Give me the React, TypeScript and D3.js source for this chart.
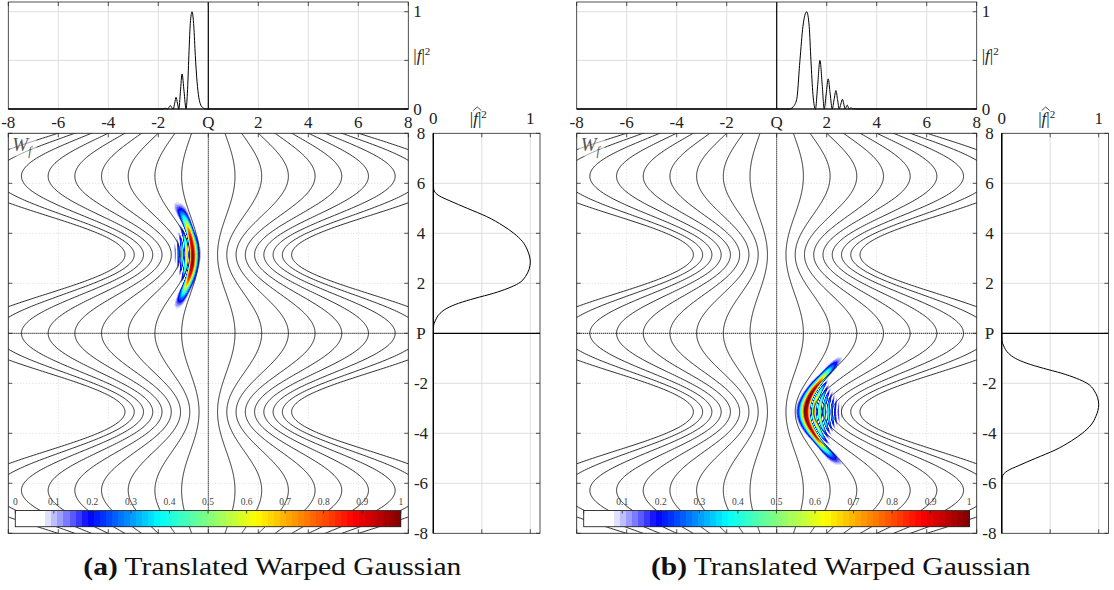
import React, { useMemo } from 'react';
import * as d3 from 'd3';

// ---------- axis ticks ----------
const xTickValues = [-8, -6, -4, -2, 0, 2, 4, 6, 8];
const xTickLabels = ['-8', '-6', '-4', '-2', 'Q', '2', '4', '6', '8'];
const wTickValues = [8, 6, 4, 2, 0, -2, -4, -6, -8];
const wTickLabels = ['8', '6', '4', '2', 'P', '-2', '-4', '-6', '-8'];
const unitTickValues = [0, 0.5, 1];
const colorbarTickValues = [0, 0.1, 0.2, 0.3, 0.4, 0.5, 0.6, 0.7, 0.8, 0.9, 1];
const colorbarLabelsA = ['0', '0.1', '0.2', '0.3', '0.4', '0.5', '0.6', '0.7', '0.8', '0.9', '1'];
const colorbarLabelsB = ['', '0.1', '0.2', '0.3', '0.4', '0.5', '0.6', '0.7', '0.8', '0.9', '1'];

// ---------- warping model (w'(ω) = 1 + β cos ω) ----------
const warpBeta = [0.485];
const contourSpacing = [0.719];
const contourIndex = [-9, -8, -7, -6, -5, -4, -3, -2, -1, 1, 2, 3, 4, 5, 6, 7, 8, 9];
const translations = [-1.0, 2.0];

// ---------- top marginal |f|^2 ----------
const topAx = [-8, -2.5, -1.82, -1.77, -1.72, -1.67, -1.63, -1.575, -1.52, -1.465, -1.4, -1.345, -1.29, -1.235, -1.18, -1.115, -1.05, -0.97, -0.89, -0.83, -0.77, -0.72, -0.65, -0.58, -0.52, -0.45, -0.38, -0.3, -0.2, -0.1, 8];
const topAy = [0, 0, 0, 0.004, 0.008, 0.004, 0, 0.017, 0.035, 0.017, 0, 0.06, 0.12, 0.06, 0, 0.18, 0.36, 0.18, 0, 0.2, 0.6, 0.88, 1.0, 0.85, 0.55, 0.28, 0.12, 0.04, 0.01, 0, 0];
const topBx = [-8, 0.5, 0.65, 0.8, 0.93, 1.05, 1.2, 1.3, 1.37, 1.45, 1.55, 1.64, 1.73, 1.82, 1.9, 1.98, 2.06, 2.14, 2.22, 2.295, 2.37, 2.435, 2.5, 2.565, 2.63, 2.685, 2.74, 2.78, 2.82, 2.86, 2.9, 2.935, 2.97, 3.005, 3.04, 3.07, 3.1, 3.13, 3.16, 8];
const topBy = [0, 0, 0.02, 0.1, 0.5, 0.85, 1.0, 0.85, 0.5, 0.15, 0, 0.25, 0.5, 0.25, 0, 0.155, 0.31, 0.155, 0, 0.095, 0.19, 0.095, 0, 0.05, 0.1, 0.05, 0, 0.02, 0.04, 0.02, 0, 0.0075, 0.015, 0.0075, 0, 0.003, 0.005, 0.002, 0, 0];

// ---------- right marginal |f^|^2 ----------
const margAw = [-8, 0, 0.3, 0.5, 0.8, 1.0, 1.2, 1.4, 1.6, 1.8, 2.0, 2.27, 2.85, 3.33, 3.67, 4.0, 4.3, 4.67, 5.0, 5.3, 5.5, 5.75, 6, 8];
const margAv = [0, 0, 0.003, 0.02, 0.07, 0.14, 0.26, 0.43, 0.62, 0.77, 0.88, 0.95, 1.0, 0.97, 0.92, 0.83, 0.72, 0.55, 0.35, 0.17, 0.06, 0.005, 0, 0];
const margBw = [-8, -6, -5.75, -5.5, -5.3, -5.0, -4.67, -4.3, -4.0, -3.67, -3.33, -2.85, -2.27, -2.0, -1.8, -1.6, -1.4, -1.2, -1.0, -0.8, -0.5, -0.3, 0, 8];
const margBv = [0, 0, 0.005, 0.06, 0.17, 0.35, 0.55, 0.72, 0.83, 0.92, 0.97, 1.0, 0.95, 0.88, 0.77, 0.62, 0.43, 0.26, 0.14, 0.07, 0.02, 0.003, 0, 0];

// heatmap regions [xMin, xMax, wMin, wMax]
const heatRegionA = [-2.2, 0.2, -0.2, 6.4];
const heatRegionB = [0.0, 3.8, -6.4, 0.2];

// ---------- colour map ----------
const colormapStops = [0, 0.077, 0.085, 0.19, 0.375, 0.625, 0.875, 1];
const colormapColors = ['#ffffff', '#ffffff', '#e2e2ff', '#0000ff', '#00ffff', '#ffff00', '#ff0000', '#800000'];
const colorLevels = 64;

const FONT = "'Liberation Serif', 'Times New Roman', serif";
const AXIS = '#262626';
const TWO_PI = 2 * Math.PI;

const cmap = d3.scaleLinear<string>().domain(colormapStops).range(colormapColors).interpolate(d3.interpolateRgb);
const levelColor = (l: number) => cmap((l + 0.5) / colorLevels);

type Run = { x0: number; x1: number; w0: number; w1: number; color: string };

function computeWigner(
  margW: number[], margV: number[], b: number, region: number[],
  xs: d3.ScaleLinear<number, number>, ws: d3.ScaleLinear<number, number>
): Run[] {
  const beta = warpBeta[0];
  const h = 0.01;
  const N = Math.round(16 / h) + 1;
  const amp = d3.scaleLinear().domain(margW).range(margV).clamp(true);
  const A = new Float64Array(N);
  const WV = new Float64Array(N);
  for (let j = 0; j < N; j++) {
    const om = -8 + j * h;
    A[j] = Math.sqrt(Math.max(0, amp(om)));
    WV[j] = om + beta * Math.sin(om);
  }
  const pxL = Math.floor(xs(region[0]));
  const pxR = Math.ceil(xs(region[1]));
  const pyT = Math.floor(ws(region[3]));
  const pyB = Math.ceil(ws(region[2]));
  const nx = pxR - pxL;
  const ny = pyB - pyT;
  const vals = new Float64Array(nx * ny);
  const xsVals = new Float64Array(nx);
  for (let c = 0; c < nx; c++) xsVals[c] = xs.invert(pxL + c + 0.5);
  let vmax = 0;
  for (let r = 0; r < ny; r++) {
    const om = ws.invert(pyT + r + 0.5);
    const i = Math.round((om + 8) / h);
    const kmax = Math.min(i, N - 1 - i);
    const P: number[] = [];
    const Phi: number[] = [];
    const Kk: number[] = [];
    for (let k = 1; k <= kmax; k++) {
      const p = A[i + k] * A[i - k];
      if (p > 1e-7) {
        P.push(p);
        Phi.push(TWO_PI * b * (WV[i + k] - WV[i - k]));
        Kk.push(TWO_PI * 2 * k * h);
      }
    }
    const a0 = A[i] * A[i];
    for (let c = 0; c < nx; c++) {
      const x = xsVals[c];
      let s = a0;
      for (let q = 0; q < P.length; q++) s += 2 * P[q] * Math.cos(Kk[q] * x - Phi[q]);
      s = Math.abs(s);
      vals[r * nx + c] = s;
      if (s > vmax) vmax = s;
    }
  }
  const runs: Run[] = [];
  const lev = (v: number) => Math.max(0, Math.min(colorLevels - 1, Math.floor(v * colorLevels)));
  for (let r = 0; r < ny; r++) {
    let c = 0;
    while (c < nx) {
      const v = vals[r * nx + c] / vmax;
      const lvl = lev(v);
      let e = c + 1;
      while (e < nx && lev(vals[r * nx + e] / vmax) === lvl) e++;
      if (v >= 0.077) {
        runs.push({
          x0: xs.invert(pxL + c), x1: xs.invert(pxL + e),
          w0: ws.invert(pyT + r), w1: ws.invert(pyT + r + 1),
          color: levelColor(lvl),
        });
      }
      c = e;
    }
  }
  return runs;
}

type PanelProps = {
  id: string; X0: number; topX: number[]; topY: number[]; margW: number[]; margV: number[];
  b: number; region: number[]; cbLabels: string[]; tag: string;
};

function Panel({ id, X0, topX, topY, margW, margV, b, region, cbLabels, tag }: PanelProps) {
  const xs = d3.scaleLinear().domain([-8, 8]).range([X0, X0 + 400]);
  const ys = d3.scaleLinear().domain([0, 1.1]).range([109, 2]);
  const ws = d3.scaleLinear().domain([-8, 8]).range([533.3, 133.3]);
  const ms = d3.scaleLinear().domain([0, 1.1]).range([X0 + 425, X0 + 531.7]);
  const cb = d3.scaleLinear().domain([0, 1]).range([X0 + 7, X0 + 392.5]);

  const runs = useMemo(() => computeWigner(margW, margV, b, region, xs, ws), [X0]);

  const beta = warpBeta[0];
  const omegas = d3.range(-8.2, 8.21, 0.04);
  const contours = contourIndex.map((k) => {
    const pts = omegas.map((om) => [k * contourSpacing[0] * (1 + beta * Math.cos(om)), om] as [number, number]);
    return d3.line<[number, number]>().x((d) => xs(d[0])).y((d) => ws(d[1]))(pts) || '';
  });

  const topPts = topX.map((x, i) => [x, topY[i]] as [number, number]);
  const topPath = d3.line<[number, number]>().x((d) => xs(d[0])).y((d) => ys(d[1])).curve(d3.curveMonotoneX)(topPts) || '';
  const margPts = margW.map((w, i) => [w, margV[i]] as [number, number]);
  const margPath = d3.line<[number, number]>().x((d) => ms(d[1])).y((d) => ws(d[0])).curve(d3.curveMonotoneY)(margPts) || '';

  const cbCells = d3.range(colorLevels);
  const gridX = [-6, -4, -2, 2, 4, 6];
  const gridW = [6, 4, 2, -2, -4, -6];

  const mainL = xs(-8), mainR = xs(8), mainT = ws(8), mainB = ws(-8);
  const topT = ys(1.1), topB = ys(0);
  const mL = ms(0), mR = ms(1.1);
  const cbT = 510.5, cbB = 526.7;

  return (
    <g>
      <defs>
        <clipPath id={`main-${id}`}>
          <rect x={mainL} y={mainT} width={mainR - mainL} height={mainB - mainT} />
        </clipPath>
        <clipPath id={`marg-${id}`}>
          <rect x={mL} y={mainT} width={mR - mL} height={mainB - mainT} />
        </clipPath>
      </defs>

      {/* ---------- top plot ---------- */}
      <rect x={xs(-8)} y={topT} width={400} height={topB - topT} fill="#fff" />
      {gridX.map((g) => (
        <line key={`tg${g}`} x1={xs(g)} x2={xs(g)} y1={topT} y2={topB} stroke="#dedede" strokeWidth={1} />
      ))}
      {[0.5, 1].map((g) => (
        <line key={`tgy${g}`} x1={xs(-8)} x2={xs(8)} y1={ys(g)} y2={ys(g)} stroke="#dedede" strokeWidth={1} />
      ))}
      <line x1={xs(0)} x2={xs(0)} y1={topT} y2={topB} stroke="#000" strokeWidth={1.2} />
      <rect x={xs(-8)} y={topT} width={400} height={topB - topT} fill="none" stroke={AXIS} strokeWidth={0.8} />
      {xTickValues.map((t) => (
        <line key={`tt${t}`} x1={xs(t)} x2={xs(t)} y1={topT} y2={topT + 4} stroke={AXIS} strokeWidth={0.8} />
      ))}
      {unitTickValues.map((t) => (
        <line key={`tr${t}`} x1={xs(8)} x2={xs(8) - 4} y1={ys(t)} y2={ys(t)} stroke={AXIS} strokeWidth={0.8} />
      ))}
      <path d={topPath} fill="none" stroke="#000" strokeWidth={1} />
      <line x1={xs(-8)} x2={xs(8)} y1={topB} y2={topB} stroke="#000" strokeWidth={1.2} />
      {xTickValues.map((t, i) => (
        <text key={`tl${t}`} x={xs(t)} y={128} textAnchor="middle" fontFamily={FONT} fontSize={17} fill="#222">
          {xTickLabels[i]}
        </text>
      ))}
      <text x={X0 + 405} y={ys(1) + 5.5} fontFamily={FONT} fontSize={17} fill="#222">1</text>
      <text x={X0 + 405} y={ys(0) + 5.5} fontFamily={FONT} fontSize={17} fill="#222">0</text>
      <text x={X0 + 405} y={ys(0.55) + 5.5} fontFamily={FONT} fontSize={17} fill="#222">
        |<tspan fontStyle="italic">f</tspan>|<tspan dy={-6} fontSize={11}>2</tspan>
      </text>

      {/* ---------- main plot ---------- */}
      <rect x={mainL} y={mainT} width={400} height={400} fill="#fff" />
      {gridX.map((g) => (
        <line key={`mg${g}`} x1={xs(g)} x2={xs(g)} y1={mainT} y2={mainB} stroke="#cfcfcf" strokeWidth={0.8} strokeDasharray="1,2" />
      ))}
      {gridW.map((g) => (
        <line key={`mgw${g}`} x1={mainL} x2={mainR} y1={ws(g)} y2={ws(g)} stroke="#cfcfcf" strokeWidth={0.8} strokeDasharray="1,2" />
      ))}
      <g clipPath={`url(#main-${id})`}>
        <g shapeRendering="crispEdges">
          {runs.map((r, i) => (
            <rect key={i} x={xs(r.x0)} y={ws(r.w0)} width={xs(r.x1) - xs(r.x0)} height={ws(r.w1) - ws(r.w0)} fill={r.color} />
          ))}
        </g>
        {contours.map((d, i) => (
          <path key={`c${i}`} d={d} fill="none" stroke="#1c1c1c" strokeWidth={0.9} />
        ))}
      </g>
      <line x1={xs(0)} x2={xs(0)} y1={mainT} y2={mainB} stroke="#000" strokeWidth={1} strokeDasharray="1.2,0.8" />
      <line x1={mainL} x2={mainR} y1={ws(0)} y2={ws(0)} stroke="#000" strokeWidth={1} strokeDasharray="1.2,0.8" />

      {/* colorbar */}
      <g shapeRendering="crispEdges">
        {cbCells.map((l) => (
          <rect key={`cb${l}`} x={cb(l / colorLevels)} y={cbT} width={cb((l + 1) / colorLevels) - cb(l / colorLevels) + 0.5} height={cbB - cbT} fill={levelColor(l)} />
        ))}
      </g>
      <rect x={cb(0)} y={cbT} width={cb(1) - cb(0)} height={cbB - cbT} fill="none" stroke={AXIS} strokeWidth={0.9} />
      {colorbarTickValues.map((t) => (
        <line key={`cbt${t}`} x1={cb(t)} x2={cb(t)} y1={cbT} y2={cbT + 3} stroke={AXIS} strokeWidth={0.8} />
      ))}
      {colorbarTickValues.map((t, i) => (
        <text key={`cbl${t}`} x={cb(t)} y={505} textAnchor="middle" fontFamily={FONT} fontSize={9.5} fill="#444">
          {cbLabels[i]}
        </text>
      ))}

      <rect x={mainL} y={mainT} width={400} height={400} fill="none" stroke={AXIS} strokeWidth={0.9} />
      {xTickValues.map((t) => (
        <g key={`mt${t}`}>
          <line x1={xs(t)} x2={xs(t)} y1={mainT} y2={mainT + 4} stroke={AXIS} strokeWidth={0.8} />
          <line x1={xs(t)} x2={xs(t)} y1={mainB} y2={mainB - 4} stroke={AXIS} strokeWidth={0.8} />
        </g>
      ))}
      {wTickValues.map((t) => (
        <g key={`mw${t}`}>
          <line x1={mainL} x2={mainL + 4} y1={ws(t)} y2={ws(t)} stroke={AXIS} strokeWidth={0.8} />
          <line x1={mainR} x2={mainR - 4} y1={ws(t)} y2={ws(t)} stroke={AXIS} strokeWidth={0.8} />
        </g>
      ))}
      {wTickValues.map((t, i) => (
        <text key={`ml${t}`} x={X0 + 412.7} y={ws(t) + 5.5} textAnchor="middle" fontFamily={FONT} fontSize={17} fill="#222">
          {wTickLabels[i]}
        </text>
      ))}
      <rect x={mainL + 2} y={mainT + 3} width={26} height={20} fill="#fff" opacity={0.55} />
      <text x={mainL + 4} y={mainT + 18} fontFamily={FONT} fontSize={19} fontStyle="italic" fill="#555">
        W<tspan dy={4} fontSize={12}>f</tspan>
      </text>

      {/* ---------- right marginal ---------- */}
      <rect x={mL} y={mainT} width={mR - mL} height={400} fill="#fff" />
      {[0.5, 1].map((g) => (
        <line key={`rg${g}`} x1={ms(g)} x2={ms(g)} y1={mainT} y2={mainB} stroke="#dedede" strokeWidth={1} />
      ))}
      {gridW.map((g) => (
        <line key={`rgw${g}`} x1={mL} x2={mR} y1={ws(g)} y2={ws(g)} stroke="#dedede" strokeWidth={1} />
      ))}
      <rect x={mL} y={mainT} width={mR - mL} height={400} fill="none" stroke={AXIS} strokeWidth={0.8} />
      {unitTickValues.map((t) => (
        <g key={`rt${t}`}>
          <line x1={ms(t)} x2={ms(t)} y1={mainT} y2={mainT + 4} stroke={AXIS} strokeWidth={0.8} />
          <line x1={ms(t)} x2={ms(t)} y1={mainB} y2={mainB - 4} stroke={AXIS} strokeWidth={0.8} />
        </g>
      ))}
      {wTickValues.map((t) => (
        <line key={`rw${t}`} x1={mR} x2={mR - 4} y1={ws(t)} y2={ws(t)} stroke={AXIS} strokeWidth={0.8} />
      ))}
      <line x1={mL} x2={mR} y1={ws(0)} y2={ws(0)} stroke="#000" strokeWidth={1.2} />
      <line x1={mL} x2={mL} y1={mainT} y2={mainB} stroke="#000" strokeWidth={1.4} />
      <g clipPath={`url(#marg-${id})`}>
        <path d={margPath} fill="none" stroke="#000" strokeWidth={1} />
      </g>
      <text x={ms(0)} y={124} textAnchor="middle" fontFamily={FONT} fontSize={17} fill="#222">0</text>
      <text x={ms(1)} y={124} textAnchor="middle" fontFamily={FONT} fontSize={17} fill="#222">1</text>
      <text x={ms(0.5) - 12} y={124} fontFamily={FONT} fontSize={17} fill="#222">
        |<tspan fontStyle="italic">f</tspan>|<tspan dy={-6} fontSize={11}>2</tspan>
      </text>
      <path d={`M${ms(0.5) - 8.5},${110.5} L${ms(0.5) - 4.5},${107} L${ms(0.5) - 0.5},${110.5}`} fill="none" stroke="#222" strokeWidth={0.8} />

      {/* caption */}
      <g transform={`translate(${X0 + 264},575) scale(1.18,1)`}>
        <text x={0} y={0} textAnchor="middle" fontFamily={FONT} fontSize={25} fill="#111">
          <tspan fontWeight="bold">({tag})</tspan> Translated Warped Gaussian
        </text>
      </g>
    </g>
  );
}

export default function App() {
  return (
    <svg width={1114} height={590} style={{ position: 'absolute', left: 0, top: 0, background: '#fff' }}>
      <rect x={0} y={0} width={1114} height={590} fill="#fff" />
      <Panel id="a" X0={8.3} topX={topAx} topY={topAy} margW={margAw} margV={margAv} b={translations[0]} region={heatRegionA} cbLabels={colorbarLabelsA} tag="a" />
      <Panel id="b" X0={576.7} topX={topBx} topY={topBy} margW={margBw} margV={margBv} b={translations[1]} region={heatRegionB} cbLabels={colorbarLabelsB} tag="b" />
    </svg>
  );
}
